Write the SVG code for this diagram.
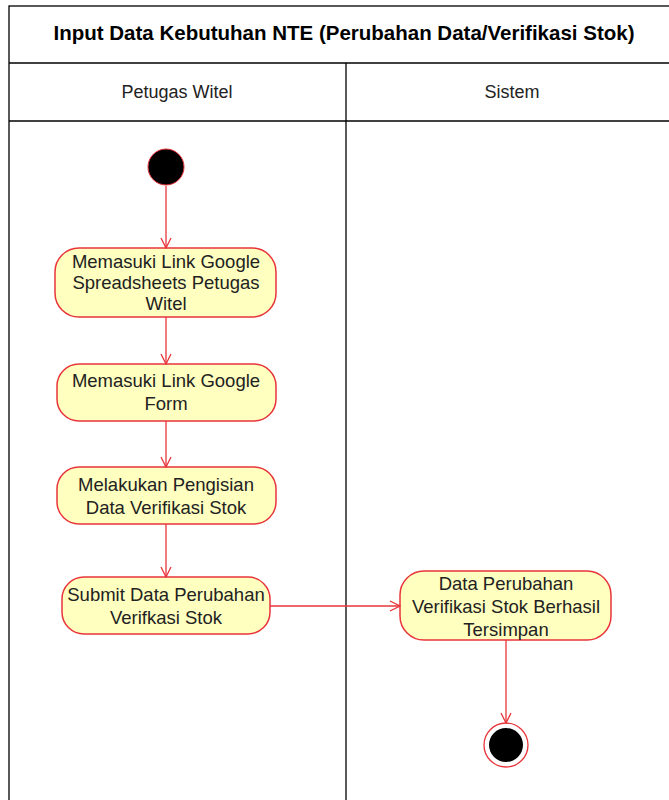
<svg xmlns="http://www.w3.org/2000/svg" width="669" height="800" viewBox="0 0 669 800">
<defs>
<style>
.lane{fill:none;stroke:#000;stroke-width:1.3}
.act{fill:#ffffc0;stroke:#e8353a;stroke-width:1.5}
.t{font-family:"Liberation Sans",Arial,sans-serif;font-size:18.5px;fill:#222;text-anchor:middle}
.h{font-family:"Liberation Sans",Arial,sans-serif;font-size:18px;fill:#222;text-anchor:middle}
.title{font-family:"Liberation Sans",Arial,sans-serif;font-size:20.5px;font-weight:bold;fill:#000;text-anchor:middle}
.edge{fill:none;stroke:#e8353a;stroke-width:1.3}
</style>
<marker id="arr" viewBox="0 0 12 12" refX="11" refY="6" markerWidth="12" markerHeight="12" markerUnits="userSpaceOnUse" orient="auto">
<path d="M1,1 L11,6 L1,11" fill="none" stroke="#e8353a" stroke-width="1.3"/>
</marker>
</defs>
<rect width="669" height="800" fill="#fff"/>
<g id="pool">
<rect class="lane" x="9" y="6" width="670" height="800"/>
<line class="lane" x1="9" y1="63" x2="669" y2="63"/>
<line class="lane" x1="9" y1="121" x2="669" y2="121"/>
<line class="lane" x1="346" y1="63" x2="346" y2="800"/>
<text class="title" x="344" y="40">Input Data Kebutuhan NTE (Perubahan Data/Verifikasi Stok)</text>
<text class="h" x="177" y="98">Petugas Witel</text>
<text class="h" x="512" y="98">Sistem</text>
</g>
<g id="start"><circle cx="166" cy="167" r="18" fill="#000" stroke="#e8353a" stroke-width="1"/></g>
<g id="a1"><rect class="act" x="55" y="248" width="221" height="69" rx="24"/>
<text class="t" x="166" y="268">Memasuki Link Google</text>
<text class="t" x="166" y="289">Spreadsheets Petugas</text>
<text class="t" x="166" y="310">Witel</text></g>
<g id="a2"><rect class="act" x="57" y="364" width="219" height="57" rx="22"/>
<text class="t" x="166" y="387">Memasuki Link Google</text>
<text class="t" x="166" y="410">Form</text></g>
<g id="a3"><rect class="act" x="57" y="467" width="219" height="57" rx="22"/>
<text class="t" x="166" y="491">Melakukan Pengisian</text>
<text class="t" x="166" y="514">Data Verifikasi Stok</text></g>
<g id="a4"><rect class="act" x="62" y="577" width="208" height="57" rx="22"/>
<text class="t" x="166" y="601">Submit Data Perubahan</text>
<text class="t" x="166" y="624">Verifkasi Stok</text></g>
<g id="a5"><rect class="act" x="400" y="571" width="211" height="69" rx="24"/>
<text class="t" x="506" y="590">Data Perubahan</text>
<text class="t" x="506" y="613">Verifikasi Stok Berhasil</text>
<text class="t" x="506" y="636">Tersimpan</text></g>
<g id="end"><circle cx="506" cy="745" r="22" fill="#fff" stroke="#e8353a" stroke-width="1.3"/>
<circle cx="506" cy="745" r="17" fill="#000"/></g>
<g id="connectors">
<line class="edge" x1="166" y1="186" x2="166" y2="248" marker-end="url(#arr)"/>
<line class="edge" x1="166" y1="317" x2="166" y2="364" marker-end="url(#arr)"/>
<line class="edge" x1="166" y1="421" x2="166" y2="467" marker-end="url(#arr)"/>
<line class="edge" x1="166" y1="524" x2="166" y2="577" marker-end="url(#arr)"/>
<line class="edge" x1="270" y1="606" x2="400" y2="606" marker-end="url(#arr)"/>
<line class="edge" x1="506" y1="640" x2="506" y2="723" marker-end="url(#arr)"/>
</g>
</svg>
